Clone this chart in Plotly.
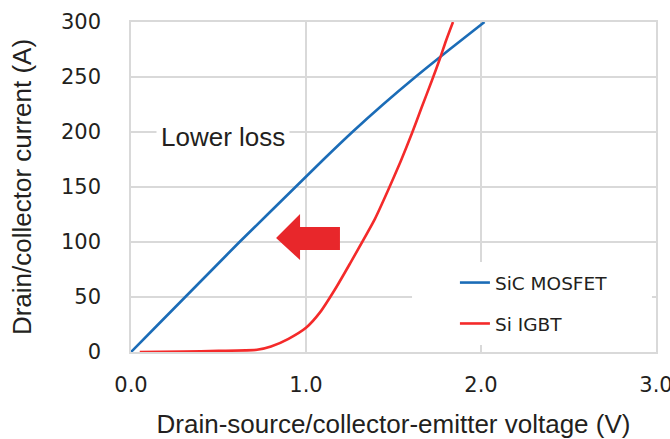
import plotly.graph_objects as go

# ---- data ----
sic_v = [0.0, 0.155, 0.31, 0.465, 0.62, 0.78, 0.94, 1.10, 1.265, 1.44, 1.625, 1.82, 2.02]
sic_i = [0, 25, 50, 75, 100, 125, 150, 175, 200, 225, 250, 275, 300]

igbt_v = [0.05, 0.30, 0.50, 0.72, 0.80, 0.90, 1.00, 1.08, 1.166, 1.25, 1.394, 1.469,
          1.54, 1.606, 1.66, 1.72, 1.766, 1.80, 1.84]
igbt_i = [0, 0.5, 1, 2, 5, 12, 22, 36, 57, 80, 121, 147, 173, 199, 222, 247, 267, 283, 300]

series_names = ["SiC MOSFET", "Si IGBT"]
x_ticks = [0, 1, 2, 3]
x_tick_labels = ["0.0", "1.0", "2.0", "3.0"]
y_ticks = [0, 50, 100, 150, 200, 250, 300]
x_title = "Drain-source/collector-emitter voltage (V)"
y_title = "Drain/collector current (A)"
note_text = "Lower loss"

# ---- styles ----
BLUE = "#1b6cb7"
RED = "#f42a2a"
ARROW = "#e8272b"
GRID = "#d9d9d9"
TXT = "#231f20"
TICKFONT = dict(family="DejaVu Sans", size=21, color=TXT)
TITLEFONT = dict(family="Liberation Sans, Arial", size=26, color=TXT)

fig = go.Figure()
fig.add_trace(go.Scatter(x=sic_v, y=sic_i, mode="lines", name=series_names[0],
                         line=dict(color=BLUE, width=2.6, shape="spline", smoothing=0.6),
                         legend="legend"))
fig.add_trace(go.Scatter(x=igbt_v, y=igbt_i, mode="lines", name=series_names[1],
                         line=dict(color=RED, width=2.6, shape="spline", smoothing=0.6),
                         legend="legend2"))

# white background behind the legend (covers gridlines)
fig.add_shape(type="rect", xref="x", yref="y", x0=1.606, x1=2.977, y0=6.4, y1=81.8,
              fillcolor="white", line=dict(width=0), layer="between")

# red block arrow pointing left
arrow_path = ("M 0.829 103.6 L 0.966 125.5 L 0.966 113.6 L 1.194 113.6 "
              "L 1.194 92.7 L 0.966 92.7 L 0.966 83.6 Z")
fig.add_shape(type="path", xref="x", yref="y", path=arrow_path,
              fillcolor=ARROW, line=dict(width=0), layer="above")

fig.add_annotation(x=0.526, y=195.5, xref="x", yref="y", text=note_text,
                   showarrow=False, bgcolor="white", borderpad=4,
                   font=dict(family="Liberation Sans, Arial", size=26, color=TXT))

legend_common = dict(xanchor="left", yanchor="middle", bgcolor="rgba(0,0,0,0)",
                     font=dict(family="DejaVu Sans", size=18.5, color=TXT),
                     borderwidth=0)
fig.update_layout(
    width=670, height=439,
    margin=dict(l=131, r=14, t=22, b=87, autoexpand=False),
    paper_bgcolor="white", plot_bgcolor="white",
    legend=dict(x=0.617, y=0.209, **legend_common),
    legend2=dict(x=0.617, y=0.085, **legend_common),
    showlegend=True,
)
fig.update_xaxes(range=[0, 3], tickvals=x_ticks, ticktext=x_tick_labels,
                 showgrid=True, gridcolor=GRID, gridwidth=1.5,
                 showline=True, linecolor=GRID, linewidth=1.5, mirror=True,
                 zeroline=False, ticks="", tickfont=TICKFONT, ticklabelstandoff=13,
                 ticklabeloverflow="allow", automargin=False,
                 title=dict(text=x_title, font=TITLEFONT, standoff=27))
fig.update_yaxes(range=[0, 300], tickvals=y_ticks,
                 showgrid=True, gridcolor=GRID, gridwidth=1.5,
                 showline=True, linecolor=GRID, linewidth=1.5, mirror=True,
                 zeroline=False, ticks="", tickfont=TICKFONT, ticklabelstandoff=24,
                 ticklabeloverflow="allow", automargin=False,
                 title=dict(text=y_title, font=TITLEFONT, standoff=22))

fig.write_html("out.html")
